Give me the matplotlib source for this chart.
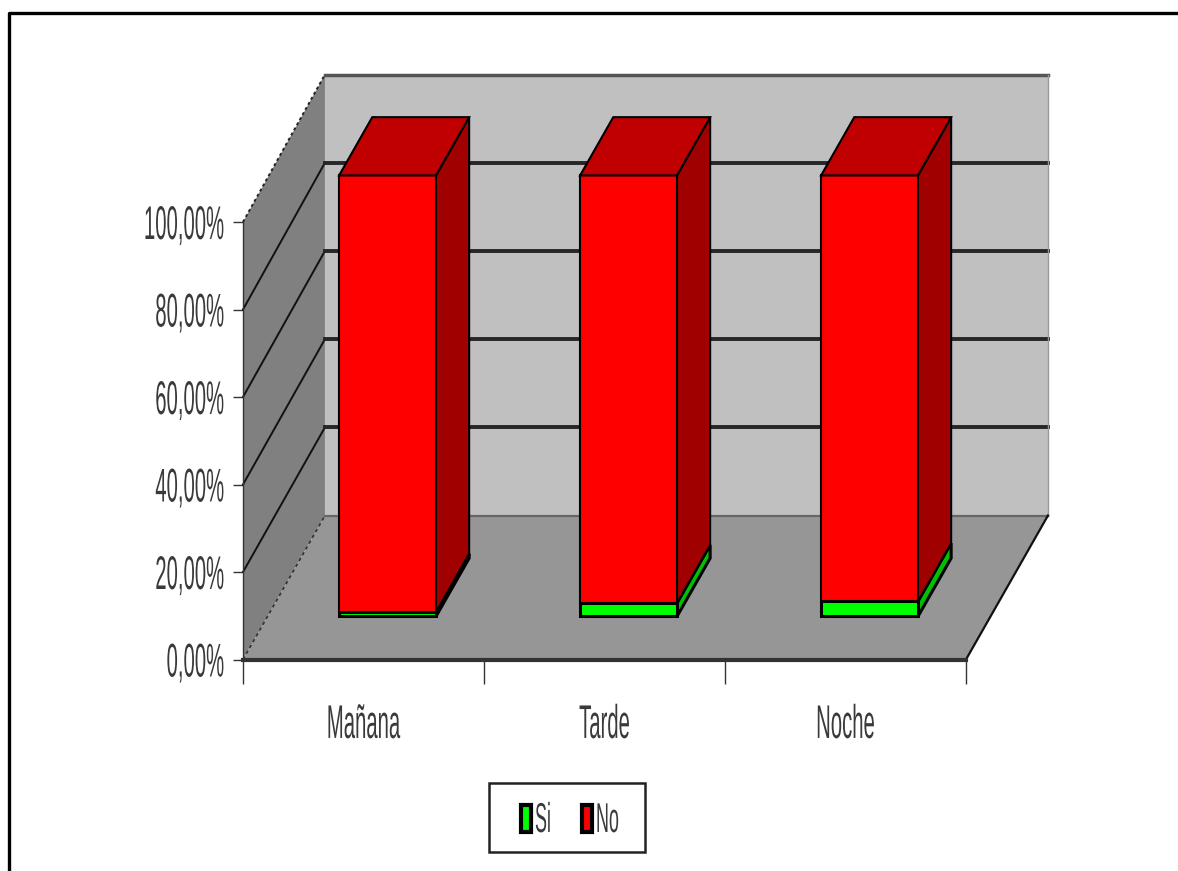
"""
    Stacked 3D-look column chart: Si / No per time of day
"""

import matplotlib

matplotlib.use("Agg")
import matplotlib.patheffects as pe
import matplotlib.pyplot as plt
from matplotlib.lines import Line2D
from matplotlib.patches import Polygon, Rectangle
from matplotlib.transforms import Affine2D

categories = ["Mañana", "Tarde", "Noche"]
si_values = [1.0, 3.0, 3.4]
no_values = [99.0, 97.0, 96.6]
y_ticks = [0, 20, 40, 60, 80, 100]
y_labels = ["0,00%", "20,00%", "40,00%", "60,00%", "80,00%", "100,00%"]

W, H = 1178, 871

# depth of the box, in data units (1 category wide, 100 % tall)
DEPTH_X = 0.340
DEPTH_Y = 32.9
WALL_RISE = 1.008

BAR_LEFT = 0.297
BAR_WIDTH = 0.402
BAR_FRONT = 0.299
BAR_BACK = 0.704

TEXT_COLOR = "#3a3a3a"


class Squeeze(pe.AbstractPathEffect):
    # the original text is horizontally squashed, matplotlib has no font stretch
    def __init__(self, text, factor=0.43):
        super().__init__()
        self.text = text
        self.factor = factor

    def draw_path(self, renderer, gc, tpath, affine, rgbFace=None):
        pos = self.text.get_transform().transform(self.text.get_unitless_position())
        squash = Affine2D().translate(-pos[0], 0).scale(self.factor, 1).translate(pos[0], 0)
        renderer.draw_path(gc, tpath, affine + squash, rgbFace)


def project(x, pct, depth):
    rise = WALL_RISE if depth > 0 else 1.0
    return x + depth * DEPTH_X, pct * rise + depth * DEPTH_Y


def face(ax, corners, color, z, lw=0.0, edge="black"):
    pts = [project(*c) for c in corners]
    ax.add_patch(
        Polygon(pts, closed=True, facecolor=color, edgecolor=edge, linewidth=lw, zorder=z, clip_on=False)
    )


def draw_segment(ax, i, bottom, top, front, side, roof=None, lw=1.5):
    x0 = i + BAR_LEFT
    x1 = x0 + BAR_WIDTH
    face(ax, [(x1, bottom, BAR_FRONT), (x1, bottom, BAR_BACK), (x1, top, BAR_BACK), (x1, top, BAR_FRONT)], side, 5, lw)
    face(ax, [(x0, bottom, BAR_FRONT), (x1, bottom, BAR_FRONT), (x1, top, BAR_FRONT), (x0, top, BAR_FRONT)], front, 5, lw)
    if roof:
        face(ax, [(x0, top, BAR_FRONT), (x1, top, BAR_FRONT), (x1, top, BAR_BACK), (x0, top, BAR_BACK)], roof, 5, lw)


fig = plt.figure(figsize=(W / 100, H / 100), dpi=100, facecolor="white")
ax = fig.add_axes([243 / W, (H - 659.5) / H, 723 / W, 437.5 / H])
ax.set_xlim(0, 3)
ax.set_ylim(0, 100)
ax.patch.set_visible(False)
for side in ["top", "right", "bottom"]:
    ax.spines[side].set_visible(False)
ax.spines["left"].set_color("#333333")
ax.spines["left"].set_linewidth(1.0)

# walls and floor
face(ax, [(0, 0, 1), (3, 0, 1), (3, 100, 1), (0, 100, 1)], "#c0c0c0", 1)
face(ax, [(0, 0, 0), (0, 0, 1), (0, 100, 1), (0, 100, 0)], "#808080", 1)
face(ax, [(0, 0, 0), (3, 0, 0), (3, 0, 1), (0, 0, 1)], "#969696", 1)

# gridlines over back and side wall
for t in y_ticks[1:-1]:
    xs, ys = zip(project(0, t, 0), project(0, t, 1), project(3, t, 1))
    ax.plot(xs[:2], ys[:2], color="#111111", lw=1.4, zorder=2, clip_on=False)
    ax.plot(xs[1:], ys[1:], color="#262626", lw=2.8, zorder=2, clip_on=False)

xs, ys = zip(project(0, 100, 0), project(0, 100, 1), project(3, 100, 1), project(3, 0, 1))
ax.plot(xs[:2], ys[:2], color="#222222", lw=1.4, ls=(0, (1.5, 1.5)), zorder=2, clip_on=False)
ax.plot(xs[1:3], ys[1:3], color="#555555", lw=2.5, zorder=2, clip_on=False)
ax.plot(xs[2:], ys[2:], color="#999999", lw=1.0, zorder=2, clip_on=False)

xs, ys = zip(project(0, 0, 0), project(0, 0, 1), project(3, 0, 1), project(3, 0, 0), project(0, 0, 0))
ax.plot(xs[:2], ys[:2], color="#333333", lw=1.2, ls=(0, (2, 2)), zorder=2, clip_on=False)
ax.plot(xs[1:3], ys[1:3], color="#666666", lw=1.6, zorder=2, clip_on=False)
ax.plot(xs[2:4], ys[2:4], color="#111111", lw=1.6, zorder=2, clip_on=False)
ax.plot(xs[3:], ys[3:], color="#333333", lw=3.0, zorder=2, clip_on=False)

# columns
for i in range(len(categories)):
    draw_segment(ax, i, 0, si_values[i], "#00ff00", "#00c000", lw=2.2)
    draw_segment(ax, i, si_values[i], si_values[i] + no_values[i], "#ff0000", "#a00000", "#c00000")

# axes ticks and labels
ax.set_yticks(y_ticks, y_labels)
ax.set_xticks([0, 1, 2, 3], ["", "", "", ""])
ax.set_xticks([0.5, 1.5, 2.5], categories, minor=True)
ax.tick_params(axis="y", length=7, width=1.0, color="#333333", pad=6.5, labelsize=34, labelcolor=TEXT_COLOR)
ax.tick_params(axis="x", which="major", length=17, width=1.0, color="#333333")
ax.tick_params(axis="x", which="minor", length=0, pad=32, labelsize=34, labelcolor=TEXT_COLOR)
for label in ax.get_yticklabels() + ax.get_xticklabels(minor=True):
    label.set_fontfamily("Liberation Sans")
    label.set_path_effects([Squeeze(label)])

# legend box, drawn by hand so the squashed text keeps its tight spacing
to_fig = fig.transFigure
fig.add_artist(
    Rectangle((489 / W, 1 - 852 / H), 156 / W, 69 / H, transform=to_fig, facecolor="white", edgecolor="#222222", linewidth=1.8)
)
for name, color, sx, tx in [("Si", "#00ff00", 520.5, 535), ("No", "#ff0000", 582, 596)]:
    fig.add_artist(
        Rectangle((sx / W, 1 - 831.5 / H), 10 / W, 27 / H, transform=to_fig, facecolor=color, edgecolor="black", linewidth=3.0)
    )
    t = fig.text(tx / W, 1 - 832 / H, name, family="Liberation Sans", fontsize=30, color=TEXT_COLOR, ha="left", va="baseline")
    t.set_path_effects([Squeeze(t)])

# outer chart frame, runs off the right and bottom of the crop
fig.add_artist(Line2D([8.5 / W, 8.5 / W, 1], [0, 1 - 13 / H, 1 - 13 / H], transform=to_fig, color="black", lw=2.4))

plt.savefig("out.png", dpi=100)
